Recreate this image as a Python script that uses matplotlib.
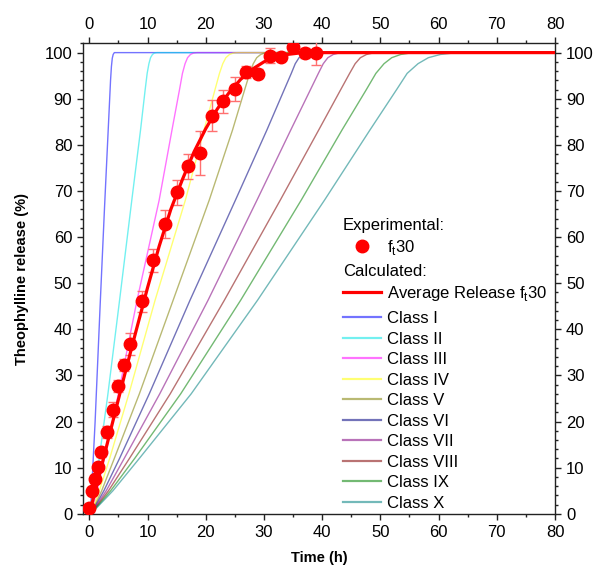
import matplotlib
matplotlib.use("Agg")
import matplotlib.pyplot as plt
from matplotlib.lines import Line2D
from matplotlib.ticker import MultipleLocator

plt.rcParams['font.family'] = ['Liberation Sans', 'DejaVu Sans']
plt.rcParams['mathtext.fontset'] = 'custom'
plt.rcParams['mathtext.rm'] = 'Liberation Sans'

# Experimental f_t30 data
exp_t = [0, 0.5, 1, 1.5, 2, 3, 4, 5, 6, 7, 9, 11, 13, 15, 17, 19, 21, 23, 25, 27, 29, 31, 33, 35, 37, 39]
exp_y = [1.2, 4.9, 7.5, 10.1, 13.3, 17.7, 22.6, 27.7, 32.3, 36.8, 46.1, 55.0, 62.8, 69.7, 75.4, 78.2,
         86.3, 89.4, 92.1, 95.7, 95.4, 99.3, 99.1, 101.3, 99.9, 100.0]
exp_err = [0.8, 0.8, 0.8, 0.8, 0.9, 1.3, 1.6, 1.3, 1.3, 2.3, 2.3, 2.5, 3.0, 2.7, 2.7, 4.7,
           3.4, 2.5, 2.7, 1.3, 1.0, 1.6, 0.8, 0.5, 1.1, 2.7]

# Calculated average release f_t30
avg_t = [0, 1, 2, 3, 4, 5, 6, 8, 10, 12, 14, 16, 18, 20, 22, 24, 26, 28, 30, 32, 34, 36, 38, 80]
avg_y = [0, 4.8, 9.8, 14.8, 19.8, 24.8, 29.8, 39.5, 49, 58, 66, 72.5, 78.5, 83.5, 87.8, 91.3,
         94.2, 96.4, 98, 99, 99.6, 99.9, 100, 100]

# Calculated class curves
class_names = ["Class I", "Class II", "Class III", "Class IV", "Class V",
               "Class VI", "Class VII", "Class VIII", "Class IX", "Class X"]
class_colors = ["#0000ff", "#00e5e5", "#ff00ff", "#ffff00", "#808000",
                "#000080", "#800080", "#800000", "#008000", "#008080"]

class1_t = [0.2, 1.0, 1.9, 2.6, 3.2, 3.5, 3.65, 3.8, 3.95, 4.1, 4.3, 80]
class1_y = [0, 20, 46.3, 66, 82, 90, 94, 97, 98.8, 99.6, 100, 100]

level_y = [0, 5, 12, 26, 46.3, 68, 83.2, 92, 95.5, 97.6, 98.9, 99.6, 99.9, 100, 100]
class2_t = [0.3, 0.94, 1.7, 3.2, 5.2, 7.3, 8.8, 9.6, 9.94, 10.24, 10.52, 10.85, 11.18, 11.6, 80]
class3_t = [0.3, 1.33, 2.6, 5.0, 8.2, 12.0, 14.2, 15.5, 16.0, 16.45, 16.88, 17.38, 17.88, 18.5, 80]
class4_t = [0.3, 1.73, 3.5, 6.8, 11.3, 16.5, 19.7, 21.6, 22.36, 22.93, 23.46, 24.09, 24.72, 25.5, 80]
class5_t = [0.3, 2.13, 4.3, 8.6, 14.4, 20.6, 24.6, 26.7, 27.55, 28.17, 28.76, 29.45, 30.14, 31.0, 80]
class6_t = [0.3, 2.51, 5.2, 10.3, 17.3, 25.1, 30.5, 33.5, 34.7, 35.38, 36.03, 36.79, 37.55, 38.5, 80]
class7_t = [0.3, 2.91, 6.0, 12.1, 20.4, 28.8, 34.6, 38.0, 39.35, 40.19, 40.98, 41.91, 42.84, 44.0, 80]
class8_t = [0.3, 3.3, 6.9, 13.9, 23.2, 32.8, 39.4, 43.2, 44.72, 45.67, 46.57, 47.62, 48.68, 50.0, 80]
class9_t = [0.3, 3.68, 7.8, 15.7, 26.0, 36.4, 43.4, 47.6, 49.23, 50.63, 51.95, 53.5, 55.06, 57.0, 80]
class10_t = [0.3, 4.07, 8.6, 17.5, 28.9, 40.4, 48.2, 52.8, 54.6, 56.47, 58.24, 60.32, 62.4, 65.0, 80]

class_t = [class1_t, class2_t, class3_t, class4_t, class5_t,
           class6_t, class7_t, class8_t, class9_t, class10_t]
class_y = [class1_y] + [level_y] * 9

x_ticks = [0, 10, 20, 30, 40, 50, 60, 70, 80]
y_ticks = [0, 10, 20, 30, 40, 50, 60, 70, 80, 90, 100]

fig = plt.figure(figsize=(5.98, 5.71), dpi=100)
ax = fig.add_axes([0.1396, 0.1003, 0.7885, 0.8237])

class_handles = []
for t, y, c, n in zip(class_t, class_y, class_colors, class_names):
    ln, = ax.plot(t, y, color=c, lw=1.0, alpha=0.55, label=n, zorder=2,
                  solid_joinstyle='round')
    class_handles.append(ln)

ax.errorbar(exp_t, exp_y, yerr=exp_err, fmt='none', ecolor='#ff7070', elinewidth=1.0,
            capsize=3.5, capthick=1.0, zorder=3)
avg_line, = ax.plot(avg_t, avg_y, color='#ff0000', lw=2.3, zorder=4,
                    label=r"Average Release f$_{\rm t}$30")
ax.plot(exp_t, exp_y, 'o', color='#ff0000', ms=9, mec='#ff0000', zorder=5)

ax.set_xlim(-1, 80)
ax.set_ylim(0, 102)
ax.set_xticks(x_ticks)
ax.set_yticks(y_ticks)
ax.xaxis.set_minor_locator(MultipleLocator(5))
ax.yaxis.set_minor_locator(MultipleLocator(2))
ax.tick_params(which='both', direction='out', top=True, right=True,
               labeltop=True, labelright=True, labelsize=12, width=1.0, color='#222222')
ax.tick_params(which='major', length=4, pad=4)
ax.tick_params(which='minor', length=2.5)
for s in ax.spines.values():
    s.set_linewidth(1.0)
    s.set_color('#222222')

ax.set_xlabel("Time (h)", fontsize=10.5, fontweight='bold', labelpad=8)
ax.set_ylabel("Theophylline release (%)", fontsize=10.5, fontweight='bold', labelpad=11)

leg_kw = dict(loc='upper left', frameon=False, fontsize=12, title_fontsize=12,
              alignment='left', borderpad=0, handlelength=2.3, handletextpad=0.35,
              borderaxespad=0)
exp_handle = Line2D([], [], marker='o', color='#ff0000', ls='none', ms=9)
leg1 = fig.legend([exp_handle], [r"f$_{\rm t}$30"], title="Experimental:",
                  bbox_to_anchor=(0.5736, 0.618), labelspacing=0.27, **leg_kw)
leg2 = fig.legend([avg_line], [avg_line.get_label()], title="Calculated:",
                  bbox_to_anchor=(0.5736, 0.538), labelspacing=0.32, **leg_kw)
cls_handles = [Line2D([], [], color=c, lw=1.6, alpha=0.55) for c in class_colors]
leg3 = fig.legend(cls_handles, class_names,
                  bbox_to_anchor=(0.5736, 0.455), labelspacing=0.33, **leg_kw)

fig.savefig("out.png", dpi=100)
